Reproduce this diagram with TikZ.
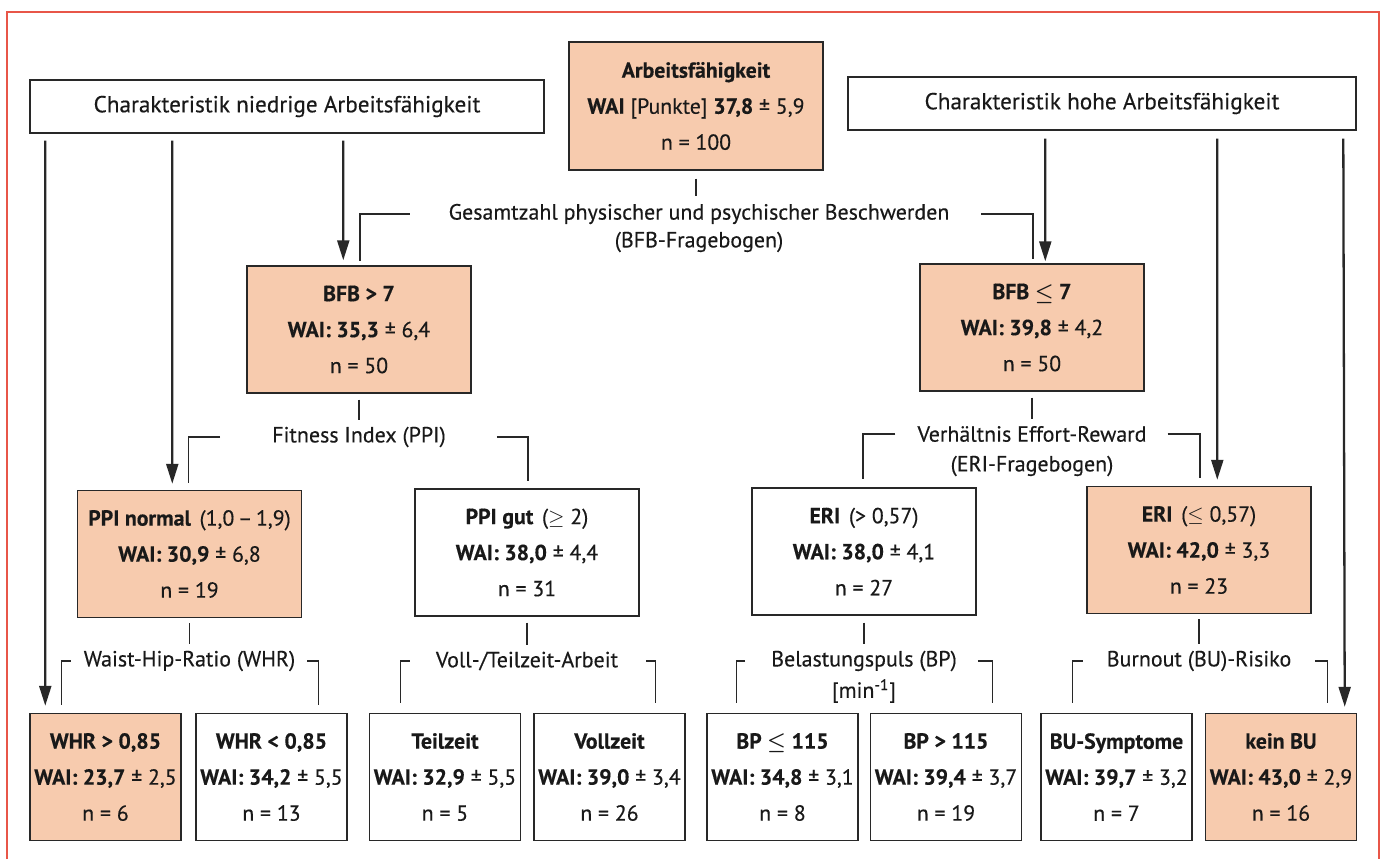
\documentclass[tikz,border=0pt]{standalone}
\usepackage{fontspec}
\setmainfont{PT Sans}[FakeBold=0.35]
\usetikzlibrary{positioning, arrows.meta, calc}
\definecolor{boxfill}{RGB}{247, 203, 174}
\definecolor{framered}{RGB}{232, 86, 72}
\definecolor{linegray}{RGB}{40, 40, 40}
\definecolor{inkblack}{RGB}{25, 25, 25}

\begin{document}
\begin{tikzpicture}[x=0.02cm, y=-0.02cm,
        wbox/.style={draw=linegray, line width=0.85pt, text=inkblack,
            minimum width=4.48cm, minimum height=2.54cm,
            align=center, inner sep=1pt, font=\fontsize{12.4}{20.5}\selectfont},
        fillbox/.style={wbox, fill=boxfill},
        leaf/.style={minimum width=3.02cm},
        hdr/.style={draw=linegray, line width=0.85pt, text=inkblack,
            minimum height=1.06cm, font=\fontsize{13.2}{14}\selectfont},
        lbl/.style={inner sep=1pt, text=inkblack, font=\fontsize{12.5}{14}\selectfont},
        arr/.style={-{Triangle[length=0.4cm, width=0.24cm]}, line width=1.3pt, linegray},
        brk/.style={line width=0.75pt, linegray}
    ]

    \useasboundingbox (0,0) rectangle (1383,859);
    % outer frame
    \draw[framered, line width=1pt] (7,859) |- (1379,12) -- (1379,859);

    % top row
    \node[fillbox, minimum width=5.08cm, minimum height=2.56cm] (root) at (696,106) {
        {\bfseries Arbeitsfähigkeit}\\
        {\bfseries WAI} [Punkte] {\bfseries 37,8} ± 5,9\\
        n = 100
    };
    \node[hdr, minimum width=10.28cm] (lowhdr) at (287,106.5)
        {Charakteristik niedrige Arbeitsfähigkeit};
    \node[hdr, minimum width=10.16cm] (highdr) at (1102,103.5)
        {Charakteristik hohe Arbeitsfähigkeit};

    % first split
    \node[lbl] (gesamt) at (699,214) {Gesamtzahl physischer und psychischer Beschwerden};
    \node[lbl] (bfbq) at (699,242) {(BFB-Fragebogen)};

    \node[fillbox] (bfbhi) at (359,329.5) {
        {\bfseries BFB > 7}\\
        {\bfseries WAI: 35,3} ± 6,4\\
        n = 50
    };
    \node[fillbox] (bfblo) at (1032,327.5) {
        {\bfseries BFB {\boldmath$\leq$} 7}\\
        {\bfseries WAI: 39,8} ± 4,2\\
        n = 50
    };

    \draw[brk] ($(root.south)+(0,8)$) -- ($(root.south |- gesamt.north)+(0,-6)$);
    \draw[brk] ($(gesamt.west)+(-37,0)$) -| ($(bfbhi.north)+(1,-4)$);
    \draw[brk] ($(gesamt.east)+(30,0)$) -| ($(bfblo.north)+(1,-4)$);

    % second split
    \node[lbl] (fitness) at (359,437) {Fitness Index (PPI)};
    \node[lbl] (verh) at (1032,434) {Verhältnis Effort-Reward};
    \node[lbl] (eriq) at (1032,466) {(ERI-Fragebogen)};

    \node[fillbox] (ppinorm) at (189.5,554) {
        {\bfseries PPI normal}\hspace{0.4em}(1,0\,–\,1,9)\\
        {\bfseries WAI: 30,9} ± 6,8\\
        n = 19
    };
    \node[wbox] (ppigut) at (527,552.5) {
        {\bfseries PPI gut}\hspace{0.4em}($\geq$ 2)\\
        {\bfseries WAI: 38,0} ± 4,4\\
        n = 31
    };
    \node[wbox] (erihi) at (864,551.5) {
        {\bfseries ERI}\hspace{0.4em}(> 0,57)\\
        {\bfseries WAI: 38,0} ± 4,1\\
        n = 27
    };
    \node[fillbox] (erilo) at (1199,550) {
        {\bfseries ERI}\hspace{0.4em}($\leq$ 0,57)\\
        {\bfseries WAI: 42,0} ± 3,3\\
        n = 23
    };

    \draw[brk] ($(bfbhi.south)+(0,6)$) -- ($(fitness.north)+(0,-5)$);
    \draw[brk] ($(fitness.west)+(-50,0)$) -| ($(ppinorm.north)+(-1,-7)$);
    \draw[brk] ($(fitness.east)+(49,0)$) -| ($(ppigut.north)+(1,-7)$);
    \draw[brk] ($(bfblo.south)+(0,6)$) -- ($(verh.north)+(0,-5)$);
    \draw[brk] ($(verh.west)+(-20,0)$) -| ($(erihi.north)+(-1,-8)$);
    \draw[brk] ($(verh.east)+(19,0)$) -| ($(erilo.north)+(1,-8)$);

    % third split
    \node[lbl] (whrlab) at (189.5,661) {Waist-Hip-Ratio (WHR)};
    \node[lbl] (volllab) at (527,661) {Voll-/Teilzeit-Arbeit};
    \node[lbl] (bplab) at (864,661) {Belastungspuls (BP)};
    \node[lbl] (minlab) at (864,691) {[min\textsuperscript{-1}]};
    \node[lbl] (bulab) at (1199,661) {Burnout (BU)-Risiko};

    \node[fillbox, leaf] (whrhi) at (105.5,777) {
        {\bfseries WHR > 0,85}\\ {\bfseries WAI: 23,7} ± 2,5\\ n = 6};
    \node[wbox, leaf] (whrlo) at (271.5,777) {
        {\bfseries WHR < 0,85}\\ {\bfseries WAI: 34,2} ± 5,5\\ n = 13};
    \node[wbox, leaf] (teil) at (445,777) {
        {\bfseries Teilzeit}\\ {\bfseries WAI: 32,9} ± 5,5\\ n = 5};
    \node[wbox, leaf] (voll) at (609.5,777) {
        {\bfseries Vollzeit}\\ {\bfseries WAI: 39,0} ± 3,4\\ n = 26};
    \node[wbox, leaf] (bplo) at (782.5,777) {
        {\bfseries BP {\boldmath$\leq$} 115}\\ {\bfseries WAI: 34,8} ± 3,1\\ n = 8};
    \node[wbox, leaf] (bphi) at (946,777) {
        {\bfseries BP > 115}\\ {\bfseries WAI: 39,4} ± 3,7\\ n = 19};
    \node[wbox, leaf] (busym) at (1116.5,777) {
        {\bfseries BU-Symptome}\\ {\bfseries WAI: 39,7} ± 3,2\\ n = 7};
    \node[fillbox, leaf] (keinbu) at (1281,777) {
        {\bfseries kein BU}\\ {\bfseries WAI: 43,0} ± 2,9\\ n = 16};

    \draw[brk] ($(ppinorm.south)+(0,5)$) -- ($(whrlab.north)+(0,-5)$);
    \draw[brk] ($(whrlab.west)+(-11,0)$) -| ($(whrhi.north west)+(32,-8)$);
    \draw[brk] ($(whrlab.east)+(10,0)$) -| ($(whrlo.north east)+(-29,-8)$);
    \draw[brk] ($(ppigut.south)+(0,6)$) -- ($(volllab.north)+(0,-5)$);
    \draw[brk] ($(volllab.west)+(-24,0)$) -| ($(teil.north west)+(32,-10)$);
    \draw[brk] ($(volllab.east)+(26,0)$) -| ($(voll.north east)+(-30,-10)$);
    \draw[brk] ($(erihi.south)+(0,7)$) -- ($(bplab.north)+(0,-5)$);
    \draw[brk] ($(bplab.west)+(-24,0)$) -| ($(bplo.north west)+(30,-10)$);
    \draw[brk] ($(bplab.east)+(19,0)$) -| ($(bphi.north east)+(-30,-10)$);
    \draw[brk] ($(erilo.south)+(0,5)$) -- ($(bulab.north)+(0,-5)$);
    \draw[brk] ($(bulab.west)+(-22,0)$) -| ($(busym.north west)+(32,-10)$);
    \draw[brk] ($(bulab.east)+(22,0)$) -| ($(keinbu.north east)+(-30,-10)$);

    % arrows from the headers
    \draw[arr] ($(lowhdr.south west)+(16,7)$) -- ($(whrhi.north west)+(16,-7)$);
    \draw[arr] ($(lowhdr.south west)+(143,7)$) -- ($(ppinorm.north west)+(95.5,-6)$);
    \draw[arr] ($(lowhdr.south west)+(314,7)$) -- ($(bfbhi.north west)+(97,-5)$);
    \draw[arr] ($(highdr.south west)+(198,8)$) -- ($(bfblo.north west)+(126,-2)$);
    \draw[arr] ($(highdr.south west)+(370,8)$) -- ($(erilo.north west)+(131,-6)$);
    \draw[arr] ($(highdr.south west)+(496,8)$) -- ($(keinbu.north east)+(-12.5,-6)$);

\end{tikzpicture}
\end{document}
